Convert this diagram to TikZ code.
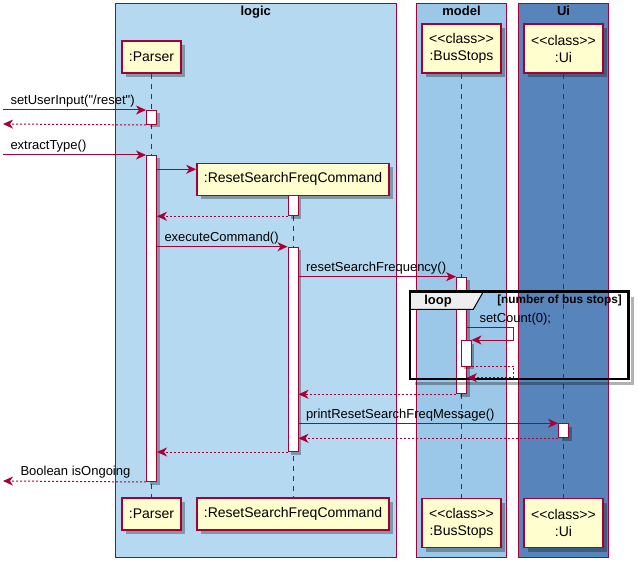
\documentclass[tikz,border=0pt]{standalone}
\usepackage{fontspec}
\setmainfont{Liberation Sans}[Ligatures=TeXOff]
\usetikzlibrary{arrows.meta, shadows, calc}
\definecolor{umlred}{HTML}{A80036}
\definecolor{umlyellow}{HTML}{FEFECE}
\definecolor{logicblue}{RGB}{182,217,242}
\definecolor{modelblue}{RGB}{155,200,232}
\definecolor{uiblue}{RGB}{87,133,187}
\definecolor{tabgray}{HTML}{EEEEEE}

\begin{document}
\begin{tikzpicture}[
    x=1pt, y=-1pt,
    grp/.style={draw=umlred, line width=1pt},
    grptitle/.style={font=\fontsize{13}{15}\selectfont\bfseries, anchor=north, inner sep=2pt},
    part/.style={rectangle, draw=umlred, line width=1.5pt, fill=umlyellow, align=center, inner xsep=7pt, inner ysep=2pt, minimum height=32pt, font=\fontsize{14}{17}\selectfont, drop shadow={shadow xshift=4pt, shadow yshift=-4pt, opacity=0.3, fill=black}},
    life/.style={draw=umlred, line width=1pt, dash pattern=on 5pt off 5pt},
    act/.style={rectangle, draw=umlred, fill=white, line width=1pt, minimum width=10pt, inner sep=0pt, anchor=north, drop shadow={shadow xshift=3pt, shadow yshift=-3pt, opacity=0.3, fill=black}},
    msg/.style={draw=umlred, line width=1pt, -{Stealth[length=10pt, width=9pt, inset=3pt]}},
    ret/.style={msg, dash pattern=on 2pt off 2pt},
    lbl/.style={font=\fontsize{13}{15}\selectfont, inner sep=2pt, anchor=south west},
    frame/.style={draw=black, line width=2.5pt}
]
\useasboundingbox (0,0) rectangle (638,567);

% Boxes
\draw[grp, fill=logicblue] (115,4) rectangle (396.5,557);
\draw[grp, fill=modelblue] (416.5,4) rectangle (506.5,557);
\draw[grp, fill=uiblue] (518.5,4) rectangle (608.5,557);
\node (logicT) [grptitle] at (255.7,4) {logic};
\node (modelT) [grptitle] at (461.5,4) {model};
\node (uiT) [grptitle] at (563.5,4) {Ui};

% Participants
\node (parserTop) [part] at (151.5,57) {:Parser};
\node (cmdTop) [part] at (293,179.3) {:ResetSearchFreqCommand};
\node (busTop) [part, minimum height=49pt] at (461.5,48.7) {<<class>>\\:BusStops};
\node (uiTop) [part, minimum height=49pt] at (563.5,48.7) {<<class>>\\:Ui};
\node (parserBot) [part] at (151.5,514) {:Parser};
\node (cmdBot) [part] at (293,514) {:ResetSearchFreqCommand};
\node (busBot) [part, minimum height=49pt] at (461.5,523) {<<class>>\\:BusStops};
\node (uiBot) [part, minimum height=49pt] at (563.5,523) {<<class>>\\:Ui};

% Lifelines
\draw[life] (parserTop.south) -- (parserBot.north);
\draw[life] (cmdTop.south) -- (cmdBot.north);
\draw[life] (busTop.south) -- (busBot.north);
\draw[life] (uiTop.south) -- (uiBot.north);

% Activations
\node (parserAct1) [act, minimum height=14pt] at (151.5,110) {};
\node (parserAct2) [act, minimum height=326pt] at (151.5,155) {};
\node (cmdAct1) [act, minimum height=20pt] at (293,195.3) {};
\node (cmdAct2) [act, minimum height=204.3pt] at (293,246.7) {};
\node (busAct1) [act, minimum height=116.6pt] at (461.5,276.7) {};
\node (busAct2) [act, minimum height=25.7pt] at (466,340) {};
\node (uiAct1) [act, minimum height=14pt] at (563.5,423.3) {};

% Loop frame
\coordinate (loopNW) at (410,291.7);
\coordinate (loopSE) at (628.3,379);
\draw[black, opacity=0.3, line width=3pt] ([xshift=4pt,yshift=-5pt]loopNW -| loopSE) -- ([xshift=4pt,yshift=-4pt]loopSE) -- ([xshift=5pt,yshift=-4pt]loopNW |- loopSE);
\draw[fill=tabgray, line width=1pt] (loopNW) -- ++(73.3,0) -- ++(-10,17.6) -- ++(-63.3,0) -- cycle;
\draw[frame] (loopNW) rectangle (loopSE);
\node (loopLbl) [font=\fontsize{13}{15}\selectfont\bfseries, inner sep=0pt] at (438,301) {loop};
\node (loopGuard) [font=\fontsize{11.8}{14}\selectfont\bfseries, inner sep=0pt, anchor=east] at (622,300.5) {[number of bus stops]};

% Free ends
\coordinate (in1) at (3,110);
\coordinate (out1) at (3,124);
\coordinate (in2) at (3,155);
\coordinate (out2) at (3,481);

% Connections
\draw[msg] (in1) -- node[lbl, pos=0, xshift=5pt] {setUserInput("/reset")} (parserAct1.north west);
\draw[ret] (parserAct1.south west) -- (out1);
\draw[msg] (in2) -- node[lbl, pos=0, xshift=5pt] {extractType()} (parserAct2.north west);
\draw[msg] ([yshift=-14.3pt]parserAct2.north east) -- ([yshift=-14.3pt]parserAct2.north east -| cmdTop.west);
\draw[ret] (cmdAct1.south west) -- (cmdAct1.south west -| parserAct2.east);
\draw[msg] (cmdAct2.north west -| parserAct2.east) -- node[lbl, pos=0, xshift=5pt] {executeCommand()} (cmdAct2.north west);
\draw[msg] (busAct1.north west -| cmdAct2.east) -- node[lbl, pos=0, xshift=5pt] {resetSearchFrequency()} (busAct1.north west);
\draw[msg] ([yshift=12.3pt]busAct2.north -| busAct1.east) -- node[lbl, pos=0, xshift=10pt] {setCount(0);} ++(46.8,0) |- (busAct2.north east);
\draw[ret] (busAct2.south east) -- ++(42.3,0) |- ([yshift=-11pt]busAct2.south -| busAct1.east);
\draw[ret] (busAct1.south west) -- (busAct1.south west -| cmdAct2.east);
\draw[msg] (uiAct1.north west -| cmdAct2.east) -- node[lbl, pos=0, xshift=5pt] {printResetSearchFreqMessage()} (uiAct1.north west);
\draw[ret] (uiAct1.south west) -- (uiAct1.south west -| cmdAct2.east);
\draw[ret] (cmdAct2.south west) -- (cmdAct2.south west -| parserAct2.east);
\draw[ret] (parserAct2.south west) -- node[lbl, pos=1, xshift=15pt] {Boolean isOngoing} (out2);

\end{tikzpicture}
\end{document}
